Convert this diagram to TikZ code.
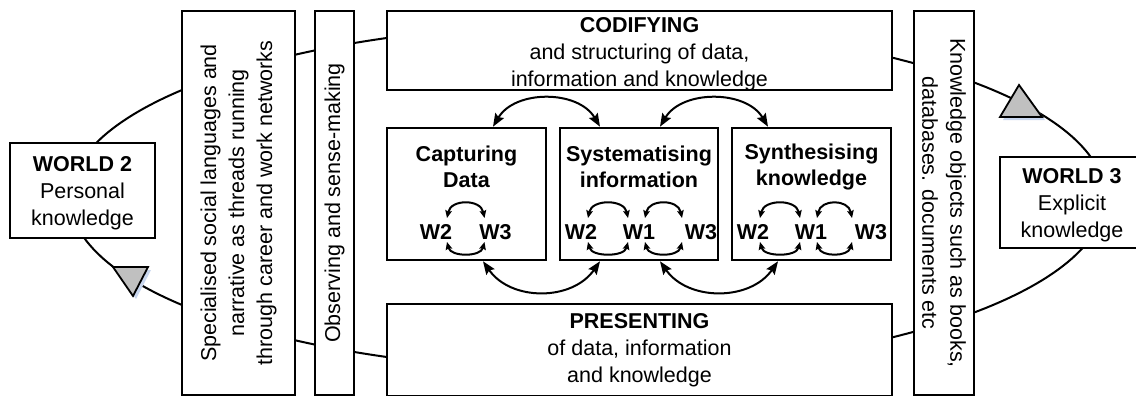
\documentclass[tikz,border=0pt]{standalone}
\usepackage{fontspec}
\setmainfont{Liberation Sans}
\usetikzlibrary{arrows.meta}
\definecolor{tricol}{HTML}{C0C0C0}
\definecolor{shadecol}{HTML}{C8D6EE}
\begin{document}
\begin{tikzpicture}[x=1pt,y=-1pt,
  box/.style={draw, line width=2.6pt, fill=white, inner sep=0pt},
  txt/.style={align=center, font=\fontsize{21.5}{27}\selectfont},
  vtxt/.style={align=center, font=\fontsize{21.5}{28}\selectfont},
  head/.style={align=center, font=\fontsize{21.5}{26}\selectfont\bfseries},
  wlab/.style={inner sep=0pt, font=\fontsize{21.5}{26}\selectfont\bfseries},
  loop/.style={line width=2pt},
  tri/.style={draw, line width=1.8pt, fill=tricol, line join=miter},
  bigarrow/.style={line width=2pt, {Stealth[length=13pt,width=10pt,inset=2pt]}-{Stealth[length=13pt,width=10pt,inset=2pt]}},
  warc/.style={line width=2pt, {Stealth[length=7.5pt,width=6.5pt,inset=1pt]}-{Stealth[length=7.5pt,width=6.5pt,inset=1pt]}}
]
\clip (0,0) rectangle (1136,396);
\fill[white] (0,0) rectangle (1136,396);

% the knowledge cycle running through all boxes
\draw[loop] (587.5,197.5) ellipse [x radius=517.5, y radius=173];

% direction marks on the cycle
\fill[shadecol] (116,270) -- (151,270) -- (136,299) -- cycle;
\draw[tri] (113,267) -- (148,267) -- (133,296) -- cycle;
\fill[shadecol] (1003,120) -- (1045,120) -- (1022,88) -- cycle;
\draw[tri] (1000,117) -- (1042,117) -- (1019,85) -- cycle;

% outer boxes
\node[box, minimum width=145pt, minimum height=95pt] (w2) at (82.5,190.5) {};
\node[txt] (w2T) at (82.5,193) {\textbf{WORLD 2}\\Personal\\knowledge};
\node[box, vtxt, rotate=90, minimum width=384pt, minimum height=113pt] (spec) at (238.5,203)
  {Specialised social languages and\\narrative as threads running\\through career and work networks};
\node[box, vtxt, rotate=90, minimum width=384pt, minimum height=39pt] (obs) at (334.5,203)
  {Observing and sense-making};
\node[box, minimum width=505pt, minimum height=79pt] (cod) at (639.5,50.5) {};
\node[txt] (codT) at (639.5,54) {\textbf{CODIFYING}\\and structuring of data,\\information and knowledge};
\node[box, txt, minimum width=505pt, minimum height=92pt] (pres) at (639.5,350)
  {\textbf{PRESENTING}\\of data, information\\and knowledge};
\node[box, vtxt, rotate=-90, minimum width=384pt, minimum height=60pt] (know) at (944,203)
  {Knowledge objects such as books,\\databases. documents etc};
\node[box, minimum width=144pt, minimum height=91pt] (w3) at (1072,202.5) {};
\node[txt] (w3T) at (1072,205.5) {\textbf{WORLD 3}\\Explicit\\knowledge};

% inner process boxes
\node[box, minimum width=159pt, minimum height=132pt] (cap) at (466.5,194) {};
\node[box, minimum width=158pt, minimum height=132pt] (sys) at (639,194) {};
\node[box, minimum width=159pt, minimum height=132pt] (syn) at (811.5,194) {};
\node[head] (capT) at (466.5,167) {Capturing\\Data};
\node[head] (sysT) at (639,167) {Systematising\\information};
\node[head] (synT) at (811.5,167) {Synthesising\\knowledge};

% world labels inside the process boxes
\node[wlab] (cW2) at (436,232) {W2};
\node[wlab] (cW3) at (495.5,232) {W3};
\node[wlab] (sW2) at (581,232) {W2};
\node[wlab] (sW1) at (639,232) {W1};
\node[wlab] (sW3) at (701,232) {W3};
\node[wlab] (yW2) at (753,232) {W2};
\node[wlab] (yW1) at (811,232) {W1};
\node[wlab] (yW3) at (871,232) {W3};

% exchanges between worlds
\foreach \l/\r/\a/\b in {cW2/cW3/11/-11, sW2/sW1/7/-11, sW1/sW3/6/-19, yW2/yW1/7/-11, yW1/yW3/6/-19} {
  \draw[warc] ([shift={(\a,-14)}]\l.center) .. controls +(4,-19) and +(-4,-19) .. ([shift={(\b,-14)}]\r.center);
  \draw[warc] ([shift={(\a,10)}]\l.center) .. controls +(4,15) and +(-4,15) .. ([shift={(\b,10)}]\r.center);
}

% links between the process boxes
\draw[bigarrow] ([xshift=26.5pt]cap.north) .. controls +(22,-37) and +(-22,-37) .. ([xshift=-39pt]sys.north);
\draw[bigarrow] ([xshift=21pt]sys.north) .. controls +(22,-37) and +(-22,-37) .. ([xshift=-43.5pt]syn.north);
\draw[bigarrow] ([xshift=16.5pt]cap.south) .. controls +(28,40) and +(-28,40) .. ([xshift=-39pt]sys.south);
\draw[bigarrow] ([xshift=21pt]sys.south) .. controls +(28,40) and +(-28,40) .. ([xshift=-33.5pt]syn.south);
\end{tikzpicture}
\end{document}
